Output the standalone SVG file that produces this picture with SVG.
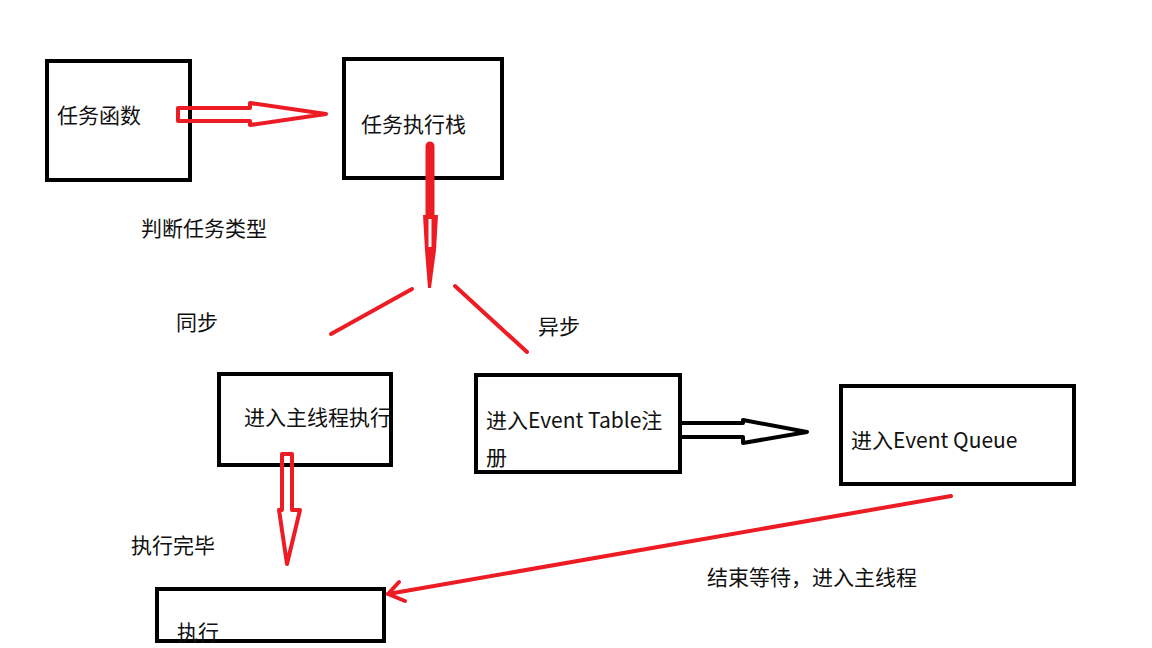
<svg xmlns="http://www.w3.org/2000/svg" width="1152" height="648" viewBox="0 0 1152 648">
<style>
.box{fill:none;stroke:#000;stroke-width:4}
.t{font-family:"Noto Sans CJK SC","Microsoft YaHei",sans-serif;font-size:21px;fill:#111}
.red{stroke:#ed1c24;stroke-width:4;fill:none;stroke-linecap:round;stroke-linejoin:round}
.blk{stroke:#000;stroke-width:4;fill:none;stroke-linejoin:round}
</style>
<rect width="1152" height="648" fill="#fff"/>
<g id="node-renwuhanshu"><rect class="box" x="47" y="61" width="143" height="119"/><text class="t" x="57" y="123">任务函数</text></g>
<g id="node-zhixingzhan"><rect class="box" x="344" y="59" width="158" height="119"/><text class="t" x="361" y="132">任务执行栈</text></g>
<g id="node-zhuxiancheng"><rect class="box" x="219" y="374" width="172" height="91"/><text class="t" x="244" y="425">进入主线程执行</text></g>
<g id="node-eventtable"><rect class="box" x="476" y="375" width="204" height="97"/><text class="t" x="486" y="428">进入Event Table注</text><text class="t" x="486" y="465">册</text></g>
<g id="node-eventqueue"><rect class="box" x="841" y="386" width="233" height="98"/><text class="t" x="851" y="448">进入Event Queue</text></g>
<g id="node-zhixing"><rect class="box" x="157" y="589" width="227" height="52"/><text class="t" x="177" y="640">执行</text></g>
<g id="labels">
<text class="t" x="141" y="236">判断任务类型</text>
<text class="t" x="176" y="330">同步</text>
<text class="t" x="538" y="334">异步</text>
<text class="t" x="131" y="553">执行完毕</text>
<text class="t" x="707" y="585">结束等待，进入主线程</text>
</g>
<g id="connectors">
<polygon class="red" points="178,108 250,108 250,103 326,114 250,125 250,121 178,121"/>
<line x1="430" y1="146" x2="430" y2="216" stroke="#ed1c24" stroke-width="9" stroke-linecap="round"/>
<polygon points="423,215 438,215 436,250 431,288 428,288 425,250" fill="#ed1c24"/>
<line x1="430" y1="219" x2="430" y2="247" stroke="#fff" stroke-width="3"/>
<line class="red" x1="412" y1="289" x2="331" y2="334"/>
<line class="red" x1="455" y1="286" x2="527" y2="352"/>
<polygon class="blk" points="680,423 743,423 743,420 807,432 743,443 743,437 680,437"/>
<polygon class="red" points="282,454 292,454 292,510 300,510 287,564 279,510 282,510"/>
<line class="red" x1="951" y1="496" x2="388" y2="594"/>
<polyline class="red" points="399,582 388,594 405,601"/>
</g>
</svg>
